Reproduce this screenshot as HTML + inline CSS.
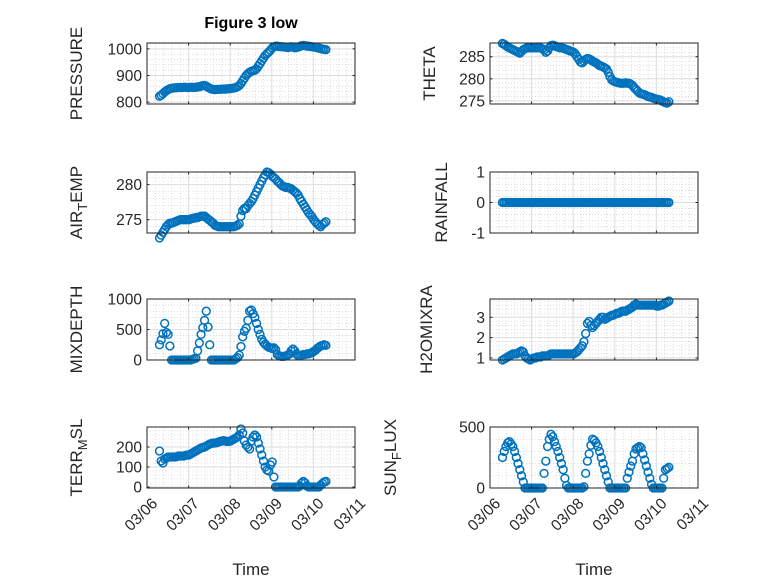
<!DOCTYPE html>
<html><head><meta charset="utf-8"><style>
html,body{margin:0;padding:0;background:#fff;}
svg{display:block;font-family:"Liberation Sans","DejaVu Sans",sans-serif;}
</style></head><body>
<svg id="fig" width="778" height="583" viewBox="0 0 778 583">
<rect width="778" height="583" fill="#fff"/>
<text x="251" y="28" text-anchor="middle" font-size="16" font-weight="bold" fill="#000">Figure 3 low</text>
</svg>
<script>
const dayLabels=["03/06","03/07","03/08","03/09","03/10","03/11"];
const startDay=0.3, endDay=4.3;
const pressure=[822,826,832,838,843,847,850,852,853,854,854,855,855,855,856,856,855,855,856,856,855,856,857,858,860,862,863,860,856,852,849,848,847,848,848,848,849,849,849,850,850,851,852,853,855,858,862,870,880,890,900,907,912,916,918,920,925,935,945,955,965,975,982,988,995,1003,1008,1010,1010,1009,1008,1008,1007,1006,1005,1006,1008,1006,1004,1005,1007,1009,1012,1013,1012,1010,1010,1009,1008,1007,1006,1004,1003,1001,999,998,997];
const theta=[288,287.8,287.5,287.2,287,286.8,286.6,286.4,286.2,286,285.8,286.2,286.6,286.8,287,287,287,287,287,287,287,287,287,286.8,286.5,286,286.3,287,287.5,287.6,287.5,287.3,287.2,287,287,286.9,286.8,286.6,286.5,286.3,286.2,286,285.6,285,284.4,283.8,283.6,284,284.4,284.6,284.5,284.3,284,283.8,283.6,283.3,283,282.9,282.7,282.5,282.2,281.5,280.5,279.8,279.5,279.3,279.2,279.1,279,279,279,279.1,279,279,278.8,278.5,278,277.6,277.2,276.8,276.6,276.5,276.4,276.2,276,275.9,275.8,275.6,275.5,275.4,275.3,275.2,275,274.8,274.6,274.5,274.8];
const airTemp=[272.4,272.8,273.2,273.6,274,274.3,274.5,274.5,274.6,274.7,274.8,274.9,275,275,275,275,275,275,275.1,275.2,275.2,275.3,275.3,275.4,275.5,275.5,275.5,275.3,275.1,274.9,274.7,274.5,274.2,274.1,274,274,274,274,274,274,274,274,274,274,274.1,274.2,274.4,275.5,276.3,276.6,276.6,277,277.3,277.6,278,278.5,279,279.5,280,280.5,281,281.4,281.8,281.7,281.5,281.2,281,280.8,280.5,280.3,280,279.8,279.7,279.6,279.6,279.5,279.4,279.2,279,278.8,278.5,278,277.6,277.2,276.8,276.4,276,275.7,275.4,275,274.7,274.4,274.2,274,274.3,274.5,274.7];
const rainfall=[0,0,0,0,0,0,0,0,0,0,0,0,0,0,0,0,0,0,0,0,0,0,0,0,0,0,0,0,0,0,0,0,0,0,0,0,0,0,0,0,0,0,0,0,0,0,0,0,0,0,0,0,0,0,0,0,0,0,0,0,0,0,0,0,0,0,0,0,0,0,0,0,0,0,0,0,0,0,0,0,0,0,0,0,0,0,0,0,0,0,0,0,0,0,0,0,0];
const mixDepth=[250,330,430,600,450,420,230,0,0,0,0,0,0,0,0,0,0,0,0,10,20,30,150,280,420,530,650,800,540,250,0,0,0,0,0,0,0,0,0,0,0,0,0,0,20,40,80,220,380,470,520,650,800,820,760,700,600,500,420,340,290,260,230,210,200,190,200,170,90,70,60,60,60,70,80,100,150,180,150,100,70,70,80,90,90,100,100,110,120,140,160,190,210,230,240,250,240];
const h2oMix=[0.9,0.95,1.0,1.05,1.1,1.15,1.2,1.2,1.2,1.25,1.3,1.35,1.3,1.1,1.0,0.95,0.9,0.95,1.0,1.0,1.05,1.05,1.05,1.1,1.1,1.1,1.1,1.15,1.2,1.2,1.2,1.2,1.2,1.2,1.2,1.2,1.2,1.2,1.2,1.2,1.2,1.2,1.25,1.3,1.4,1.5,1.6,1.8,2.2,2.7,2.8,2.6,2.5,2.6,2.7,2.8,2.9,3.0,3.0,2.9,2.95,3.0,3.05,3.1,3.1,3.15,3.2,3.2,3.25,3.3,3.3,3.3,3.35,3.4,3.45,3.5,3.6,3.65,3.6,3.6,3.6,3.6,3.6,3.6,3.6,3.6,3.6,3.6,3.6,3.55,3.55,3.6,3.6,3.65,3.7,3.75,3.8];
const terrMsl=[180,130,120,140,145,150,150,150,150,150,152,155,155,155,155,158,160,160,165,170,175,180,185,190,195,198,200,205,210,215,218,220,220,222,225,228,230,232,230,228,228,230,235,240,245,250,260,290,270,230,210,200,190,230,250,260,250,220,190,160,130,100,85,80,110,125,50,0,0,0,0,0,0,0,0,0,0,0,0,0,0,5,20,28,20,5,0,0,0,0,0,0,0,10,18,25,28];
const sunFlux=[250,300,340,370,380,360,340,300,250,200,150,100,50,0,0,0,0,0,0,0,0,0,0,0,120,220,340,400,440,420,380,340,300,250,200,150,80,20,0,0,0,0,0,0,0,0,0,10,120,220,280,350,400,390,370,340,300,250,200,150,100,50,0,0,0,0,0,0,0,0,0,0,80,130,180,220,280,320,330,340,330,280,230,180,130,80,30,0,0,0,0,0,0,80,150,160,170];

const panels=[
 {name:"pressure",label:["PRESSURE"],data:pressure,x:147,y:43,ymin:793,ymax:1022,ticks:[800,900,1000],ylx:82,bottom:false},
 {name:"theta",label:["THETA"],data:theta,x:490,y:43,ymin:274.3,ymax:288.1,ticks:[275,280,285],ylx:435,bottom:false},
 {name:"air-temp",label:["AIR","T","EMP"],data:airTemp,x:147,y:172,ymin:273.1,ymax:281.8,ticks:[275,280],ylx:82,bottom:false},
 {name:"rainfall",label:["RAINFALL"],data:rainfall,x:490,y:172,ymin:-1,ymax:1,ticks:[-1,0,1],ylx:447,bottom:false},
 {name:"mixdepth",label:["MIXDEPTH"],data:mixDepth,x:147,y:299,ymin:0,ymax:1000,ticks:[0,500,1000],ylx:82,bottom:false},
 {name:"h2omixra",label:["H2OMIXRA"],data:h2oMix,x:490,y:299,ymin:0.9,ymax:3.9,ticks:[1,2,3],ylx:432,bottom:false},
 {name:"terr-msl",label:["TERR","M","SL"],data:terrMsl,x:147,y:427,ymin:-5,ymax:300,ticks:[0,100,200],ylx:82,bottom:true},
 {name:"sun-flux",label:["SUN","F","LUX"],data:sunFlux,x:490,y:427,ymin:0,ymax:500,ticks:[0,500],ylx:396,bottom:true}
];
const W=208,H=61,NS="http://www.w3.org/2000/svg";
const svg=document.getElementById("fig");
function mk(tag,attrs,parent){const e=document.createElementNS(NS,tag);for(const k in attrs)e.setAttribute(k,attrs[k]);(parent||svg).appendChild(e);return e;}

panels.forEach(p=>{
 const g=mk("g",{});
 
 
 const xs=d=>p.x+d/5*W;
 const ys=v=>p.y+H-(v-p.ymin)/(p.ymax-p.ymin)*H;
 mk("rect",{x:p.x,y:p.y,width:W,height:H,fill:"#fff"},g);
 for(let d=0;d<=5;d+=0.2){const X=xs(d);mk("line",{x1:X,x2:X,y1:p.y,y2:p.y+H,stroke:"#c8c8c8","stroke-width":0.6,"stroke-dasharray":"1,2"},g);}
 const step=p.ticks[1]-p.ticks[0];
 for(let v=p.ticks[0]-step;v<=p.ymax+1e-9;v+=step/5){if(v<p.ymin)continue;const Y=ys(v);mk("line",{x1:p.x,x2:p.x+W,y1:Y,y2:Y,stroke:"#c8c8c8","stroke-width":0.6,"stroke-dasharray":"1,2"},g);}
 for(let d=0;d<=5;d++){const X=xs(d);mk("line",{x1:X,x2:X,y1:p.y,y2:p.y+H,stroke:"#dedede","stroke-width":1},g);}
 p.ticks.forEach(v=>{const Y=ys(v);mk("line",{x1:p.x,x2:p.x+W,y1:Y,y2:Y,stroke:"#dedede","stroke-width":1},g);});
 p.data.forEach((v,i)=>{
  const t=startDay+i*(endDay-startDay)/(p.data.length-1);
  const c=mk("circle",{cx:xs(t),cy:ys(v),r:3.9,fill:"none",stroke:"#0072BD","stroke-width":1.5},g);
  
  
 });
 mk("rect",{x:p.x,y:p.y,width:W,height:H,fill:"none",stroke:"#262626","stroke-width":1},g);
 for(let d=0;d<=5;d++){const X=xs(d);mk("line",{x1:X,x2:X,y1:p.y+H,y2:p.y+H-2.5,stroke:"#262626"},g);mk("line",{x1:X,x2:X,y1:p.y,y2:p.y+2.5,stroke:"#262626"},g);}
 p.ticks.forEach(v=>{const Y=ys(v);mk("line",{x1:p.x,x2:p.x+2.5,y1:Y,y2:Y,stroke:"#262626"},g);mk("line",{x1:p.x+W,x2:p.x+W-2.5,y1:Y,y2:Y,stroke:"#262626"},g);
  const tl=mk("text",{x:p.x-5,y:Y+5.5,"text-anchor":"end","font-size":15.5,fill:"#262626"},g);tl.textContent=String(v);
  
  
 });
 const cy=p.y+H/2;
 const yl=mk("text",{x:p.ylx,y:cy,transform:`rotate(-90 ${p.ylx} ${cy})`,"text-anchor":"middle","font-size":17,fill:"#262626"},g);
 
 
 if(p.label.length===1){yl.textContent=p.label[0];}
 else{const a=mk("tspan",{},yl);a.textContent=p.label[0];const b=mk("tspan",{dy:5,"font-size":13},yl);b.textContent=p.label[1];const c=mk("tspan",{dy:-5},yl);c.textContent=p.label[2];}
 if(p.bottom){
  dayLabels.forEach((lab,d)=>{const X=xs(d)+4,Y=p.y+H+9;
   const t=mk("text",{x:X,y:Y,transform:`rotate(-45 ${X} ${Y})`,"text-anchor":"end","font-size":15.5,fill:"#262626","dominant-baseline":"hanging"},g);t.textContent=lab;
   
   
  });
  const xl=mk("text",{x:p.x+W/2,y:575,"text-anchor":"middle","font-size":17,fill:"#262626"},g);xl.textContent="Time";
  
  
 }
});
</script>
</body></html>
